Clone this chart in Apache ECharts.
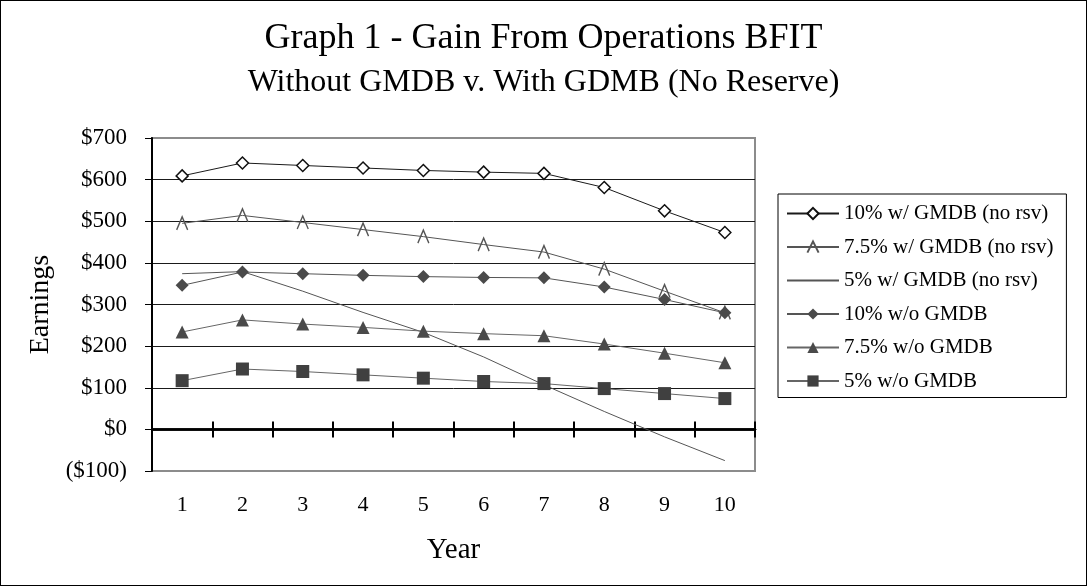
<!DOCTYPE html>
<html>
<head>
<meta charset="utf-8">
<script src="https://cdn.jsdelivr.net/npm/echarts@6/dist/echarts.min.js"></script>
<style>
  html, body { margin: 0; padding: 0; background: #fff; }
  #main { width: 1087px; height: 586px; box-sizing: border-box; border: 1px solid #000; }
</style>
</head>
<body>
<div id="main"></div>
<script>
var years = ['1', '2', '3', '4', '5', '6', '7', '8', '9', '10'];
var yTicks = [-100, 0, 100, 200, 300, 400, 500, 600, 700];

var s10With = [609, 640, 634, 628, 622, 618, 615, 581, 525, 473];
var s75With = [495, 514, 497, 480, 463, 444, 426, 385, 332, 280];
var s5With = [374, 379, 332, 281, 233, 174, 107, 43, -18, -75];
var s10Without = [346, 378, 374, 370, 367, 365, 364, 342, 312, 280];
var s75Without = [234, 263, 253, 245, 236, 230, 225, 205, 183, 160];
var s5Without = [117, 145, 139, 131, 123, 115, 110, 98, 86, 74];

var serif = '"Liberation Serif", "DejaVu Serif", serif';
var myChart = echarts.init(document.getElementById('main'));

// split lines: bottom and top edge grey like the plot frame, the rest black
var splitColors = yTicks.map(function (v, i) {
  return (i === 0 || i === yTicks.length - 1) ? '#8c8c8c' : '#1a1a1a';
});

myChart.setOption({
  animation: false,
  title: [
    { text: 'Graph 1 - Gain From Operations BFIT', left: 'center', top: 15,
      textStyle: { fontFamily: serif, fontSize: 36, fontWeight: 'normal', color: '#000' } },
    { text: 'Without GMDB v. With GDMB (No Reserve)', left: 'center', top: 61,
      textStyle: { fontFamily: serif, fontSize: 32, fontWeight: 'normal', color: '#000' } }
  ],
  legend: {
    orient: 'vertical',
    left: 777, top: 193,
    padding: [9, 13, 6, 8],
    itemWidth: 52, itemHeight: 14, itemGap: 12.5,
    backgroundColor: '#fff',
    borderColor: '#000', borderWidth: 1,
    textStyle: { fontFamily: serif, fontSize: 21, lineHeight: 21, color: '#000' },
    data: [
      '10% w/ GMDB (no rsv)',
      '7.5% w/ GMDB (no rsv)',
      { name: '5% w/ GMDB (no rsv)', itemStyle: { opacity: 0 } },
      '10% w/o GMDB',
      '7.5% w/o GMDB',
      '5% w/o GMDB'
    ]
  },
  grid: {
    left: 151, right: 331, top: 137, bottom: 114,
    show: true, borderColor: '#8c8c8c', borderWidth: 2
  },
  xAxis: [
    { // zero line, ticks pointing down
      type: 'category', data: years, position: 'bottom',
      axisLine: { onZero: true, onZeroAxisIndex: 0, lineStyle: { color: '#000', width: 2.5 } },
      axisTick: { show: true, length: 8, lineStyle: { color: '#000', width: 2 } },
      axisLabel: { show: false }, splitLine: { show: false }
    },
    { // same zero line, ticks pointing up (hangs on the hidden y axis)
      type: 'category', data: years, position: 'bottom',
      axisLine: { onZero: true, onZeroAxisIndex: 1, lineStyle: { color: '#000', width: 2.5 } },
      axisTick: { show: true, inside: true, length: 8, lineStyle: { color: '#000', width: 2 } },
      axisLabel: { show: false }, splitLine: { show: false }
    },
    { // labels at the bottom of the plot
      type: 'category', data: years, position: 'bottom',
      axisLine: { show: false, onZero: false }, axisTick: { show: false },
      axisLabel: { margin: 23, fontFamily: serif, fontSize: 22, color: '#000' },
      name: 'Year', nameLocation: 'middle', nameGap: 65,
      nameTextStyle: { fontFamily: serif, fontSize: 29, color: '#000' }
    }
  ],
  yAxis: [
    {
      type: 'value', min: -100, max: 700, interval: 100, position: 'left',
      axisLine: { show: true, onZero: false, lineStyle: { color: '#000', width: 2 } },
      axisTick: { show: true, length: 7, lineStyle: { color: '#000' } },
      axisLabel: {
        margin: 25, fontFamily: serif, fontSize: 23, color: '#000',
        formatter: function (v) { return v < 0 ? '($' + (-v) + ')' : '$' + v; }
      },
      splitLine: { show: true, lineStyle: { color: splitColors, width: 1 } },
      name: 'Earnings', nameLocation: 'middle', nameGap: 92,
      nameTextStyle: { fontFamily: serif, fontSize: 28, color: '#000' }
    },
    {
      type: 'value', min: -100, max: 700, interval: 100, position: 'right',
      show: false, splitLine: { show: false }
    }
  ],
  series: [
    { name: '10% w/ GMDB (no rsv)', type: 'line', xAxisIndex: 2, data: s10With,
      symbol: 'diamond', symbolSize: 12,
      lineStyle: { color: '#1a1a1a', width: 1 },
      itemStyle: { color: '#fff', borderColor: '#111', borderWidth: 1.5 } },
    { name: '7.5% w/ GMDB (no rsv)', type: 'line', xAxisIndex: 2, data: s75With,
      symbol: 'path://M0,12 L5,0 L10,12', symbolSize: [11, 13],
      lineStyle: { color: '#555', width: 1 },
      itemStyle: { color: 'transparent', borderColor: '#555', borderWidth: 1.5 } },
    { name: '5% w/ GMDB (no rsv)', type: 'line', xAxisIndex: 2, data: s5With,
      symbol: 'none',
      lineStyle: { color: '#555', width: 1 },
      itemStyle: { color: '#555' } },
    { name: '10% w/o GMDB', type: 'line', xAxisIndex: 2, data: s10Without,
      symbol: 'diamond', symbolSize: 13,
      lineStyle: { color: '#555', width: 1 },
      itemStyle: { color: '#4a4a4a' } },
    { name: '7.5% w/o GMDB', type: 'line', xAxisIndex: 2, data: s75Without,
      symbol: 'triangle', symbolSize: 13,
      lineStyle: { color: '#666', width: 1 },
      itemStyle: { color: '#4a4a4a' } },
    { name: '5% w/o GMDB', type: 'line', xAxisIndex: 2, data: s5Without,
      symbol: 'rect', symbolSize: 13,
      lineStyle: { color: '#666', width: 1 },
      itemStyle: { color: '#404040' } }
  ]
});
</script>
</body>
</html>
